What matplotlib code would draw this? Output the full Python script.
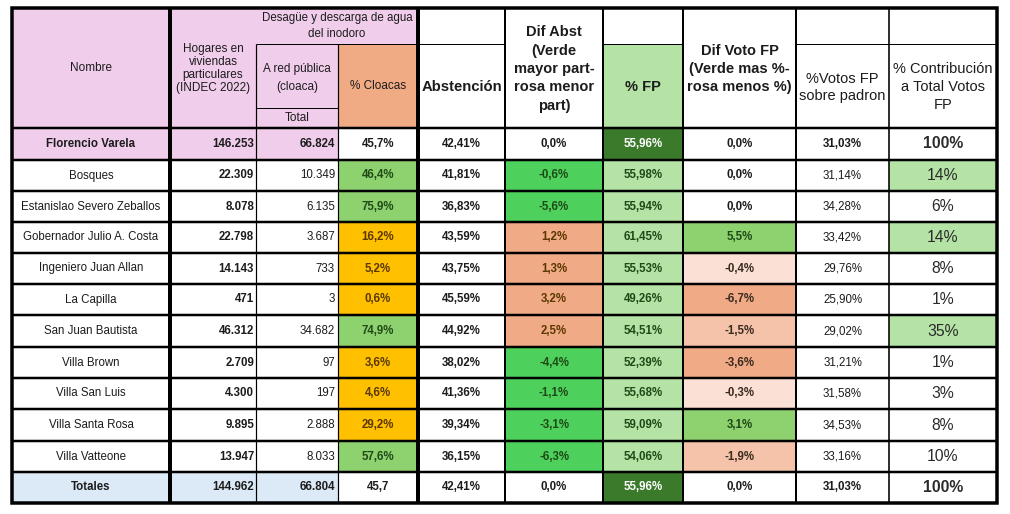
import matplotlib
matplotlib.use("Agg")
import matplotlib.pyplot as plt
from matplotlib.patches import Rectangle

plt.rcParams['font.family'] = ['Liberation Sans', 'DejaVu Sans']

# ---------------- data ----------------
names = ["Florencio Varela", "Bosques", "Estanislao Severo Zeballos",
         "Gobernador Julio A. Costa", "Ingeniero Juan Allan", "La Capilla",
         "San Juan Bautista", "Villa Brown", "Villa San Luis",
         "Villa Santa Rosa", "Villa Vatteone", "Totales"]
hogares = [146253, 22309, 8078, 22798, 14143, 471, 46312, 2709, 4300, 9895, 13947, 144962]
red_publica = [66824, 10349, 6135, 3687, 733, 3, 34682, 97, 197, 2888, 8033, 66804]
cloacas = [45.7, 46.4, 75.9, 16.2, 5.2, 0.6, 74.9, 3.6, 4.6, 29.2, 57.6, 45.7]
abstencion = [42.41, 41.81, 36.83, 43.59, 43.75, 45.59, 44.92, 38.02, 41.36, 39.34, 36.15, 42.41]
dif_abst = [0.0, -0.6, -5.6, 1.2, 1.3, 3.2, 2.5, -4.4, -1.1, -3.1, -6.3, 0.0]
pct_fp = [55.96, 55.98, 55.94, 61.45, 55.53, 49.26, 54.51, 52.39, 55.68, 59.09, 54.06, 55.96]
dif_voto = [0.0, 0.0, 0.0, 5.5, -0.4, -6.7, -1.5, -3.6, -0.3, 3.1, -1.9, 0.0]
votos_padron = [31.03, 31.14, 34.28, 33.42, 29.76, 25.90, 29.02, 31.21, 31.58, 34.53, 33.16, 31.03]
contribucion = [100, 14, 6, 14, 8, 1, 35, 1, 3, 8, 10, 100]

headers = {
    "nombre": "Nombre",
    "hogares": "Hogares en\nviviendas\nparticulares\n(INDEC 2022)",
    "desague": "Desagüe y descarga de agua\ndel inodoro",
    "red": "A red pública\n(cloaca)",
    "total": "Total",
    "cloacas": "% Cloacas",
    "abst": "Abstención",
    "difabst": "Dif Abst\n(Verde\nmayor part-\nrosa menor\npart)",
    "fp": "% FP",
    "difvoto": "Dif Voto FP\n(Verde mas %-\nrosa menos %)",
    "votos": "%Votos FP\nsobre padron",
    "contrib": "% Contribución\na Total Votos\nFP",
}

# ---------------- layout / style ----------------
W, H = 1010, 514
xe = [12, 170, 256, 338, 418, 505, 603, 683, 796, 889, 997]
y_top, y_mid, y_sub, y_hdr = 8, 44, 108, 128
ye = [128, 160, 191, 222, 253, 284, 315, 347, 378, 409, 441, 472, 503]

PINK = "#F1CDEC"
SALMON_H = "#F0AA84"
BLUE = "#DCE9F6"
GREEN_M = "#8ED26F"
ORANGE = "#FFC000"
GREEN_B = "#4DD15C"
SALMON = "#F1AA86"
LGREEN = "#B4E3A5"
DGREEN = "#3C7A2B"
PEACH_L = "#FBE1D5"
PEACH_M = "#F5C3A9"
TXT = "#1c1c1c"
TXT_G = "#1f4a17"
TXT_O = "#5a3800"

px = 0.72  # points per pixel at dpi=100

fig = plt.figure(figsize=(W / 100, H / 100), dpi=100)
ax = fig.add_axes([0, 0, 1, 1])
ax.set_xlim(0, W)
ax.set_ylim(H, 0)
ax.axis("off")


def cell(x0, x1, y0, y1, color):
    ax.add_patch(Rectangle((x0, y0), x1 - x0, y1 - y0, facecolor=color,
                           edgecolor="none", zorder=1))


def txt(x, y, s, size=8.3, weight="normal", ha="center", color=TXT, ls=1.0):
    ax.text(x, y, s, fontsize=size, fontweight=weight, ha=ha, va="center",
            color=color, linespacing=ls, zorder=3)


def fmt_int(v):
    return f"{v:,}".replace(",", ".")


def fmt_dec(v, d):
    return f"{v:.{d}f}".replace(".", ",")


# ---------------- header backgrounds ----------------
cell(xe[0], xe[2], y_top, y_hdr, PINK)
cell(xe[2], xe[4], y_top, y_mid, PINK)
cell(xe[2], xe[3], y_mid, y_hdr, PINK)
cell(xe[3], xe[4], y_mid, y_hdr, SALMON_H)
cell(xe[6], xe[7], y_mid, y_hdr, LGREEN)

cx = [(xe[i] + xe[i + 1]) / 2 for i in range(len(xe) - 1)]
txt(cx[0], 68, headers["nombre"], size=8.5)
txt(cx[1], 68.5, headers["hogares"], size=8.5, ls=1.13)
txt((xe[2] + xe[4]) / 2, 26, headers["desague"], size=8.3, ls=1.35)
txt(cx[2], 78, headers["red"], size=8.5, ls=1.6)
txt(cx[2], 118, headers["total"], size=8.5)
txt(cx[3], 86, headers["cloacas"], size=8.5)
txt(cx[4], 87, headers["abst"], size=10.7, weight="bold")
txt(cx[5], 69, headers["difabst"], size=10.5, weight="bold", ls=1.4)
txt(cx[6], 87, headers["fp"], size=10.5, weight="bold")
txt(cx[7], 69, headers["difvoto"], size=10.5, weight="bold", ls=1.4)
txt(cx[8], 87.5, headers["votos"], size=10.5, ls=1.33)
txt(cx[9], 87, headers["contrib"], size=10.5, ls=1.4)

# ---------------- body ----------------
n = len(names)
for i in range(n):
    y0, y1 = ye[i], ye[i + 1]
    yc = (y0 + y1) / 2
    special = i == 0 or i == n - 1
    base = PINK if i == 0 else (BLUE if i == n - 1 else "white")

    if special:
        cell(xe[0], xe[3], y0, y1, base)

    # % Cloacas
    tc = TXT
    if not special:
        if cloacas[i] >= 45:
            cell(xe[3], xe[4], y0, y1, GREEN_M); tc = TXT_G
        else:
            cell(xe[3], xe[4], y0, y1, ORANGE); tc = TXT_O
    cl = fmt_dec(cloacas[i], 1) + ("" if i == n - 1 else "%")
    txt(cx[3], yc, cl, weight="bold", color=tc)

    # Dif Abst
    tc = TXT
    if dif_abst[i] < 0:
        cell(xe[5], xe[6], y0, y1, GREEN_B); tc = TXT_G
    elif dif_abst[i] > 0:
        cell(xe[5], xe[6], y0, y1, SALMON); tc = TXT_O
    txt(cx[5], yc, fmt_dec(dif_abst[i], 1) + "%", weight="bold", color=tc)

    # % FP
    if special:
        cell(xe[6], xe[7], y0, y1, DGREEN)
        txt(cx[6], yc, fmt_dec(pct_fp[i], 2) + "%", weight="bold", color="white")
    else:
        cell(xe[6], xe[7], y0, y1, LGREEN)
        txt(cx[6], yc, fmt_dec(pct_fp[i], 2) + "%", weight="bold", color=TXT_G)

    # Dif Voto FP
    dv = dif_voto[i]
    tc = TXT
    if dv > 0:
        cell(xe[7], xe[8], y0, y1, GREEN_M); tc = TXT_G
    elif dv < 0:
        if dv > -1:
            col = PEACH_L
        elif dv > -3:
            col = PEACH_M
        else:
            col = SALMON
        cell(xe[7], xe[8], y0, y1, col); tc = "#3a2a20"
    txt(cx[7], yc, fmt_dec(dv, 1) + "%", weight="bold", color=tc)

    # Contribución
    if not special and contribucion[i] >= 12:
        cell(xe[9], xe[10], y0, y1, LGREEN)

    # texts
    txt(cx[0], yc, names[i], weight="bold" if special else "normal")
    txt(xe[2] - 2, yc, fmt_int(hogares[i]), weight="bold", ha="right")
    txt(xe[3] - 3, yc, fmt_int(red_publica[i]),
        weight="bold" if special else "normal", ha="right")
    txt(cx[4], yc, fmt_dec(abstencion[i], 2) + "%", weight="bold")
    txt(cx[8], yc, fmt_dec(votos_padron[i], 2) + "%",
        weight="bold" if special else "normal")
    txt(cx[9], yc, f"{contribucion[i]}%", size=11.3,
        weight="bold" if special else "normal", color="#2a2a2a")

# ---------------- grid lines ----------------
K = "black"


def hline(y, x0, x1, w):
    ax.plot([x0, x1], [y, y], color=K, lw=w * px, zorder=4, solid_capstyle="butt")


def vline(x, y0, y1, w):
    ax.plot([x, x], [y0, y1], color=K, lw=w * px, zorder=4, solid_capstyle="butt")


hline(y_mid, xe[2], xe[5], 1)
hline(y_mid, xe[6], xe[7], 1)
hline(y_mid, xe[8], xe[10], 1)
hline(y_sub, xe[2], xe[3], 1)

for y in ye[:-1]:
    hline(y, xe[0], xe[10], 2.5)

vline(xe[2], y_mid, ye[-1], 1.2)
vline(xe[3], y_mid, ye[-1], 1.2)
for i in [1, 4]:
    vline(xe[i], y_top, ye[-1], 4)
for i in [5, 6, 7, 8]:
    vline(xe[i], y_top, ye[-1], 2)
vline(xe[9], y_top, ye[-1], 1.6)

ax.add_patch(Rectangle((xe[0], y_top), xe[-1] - xe[0], ye[-1] - y_top,
                       facecolor="none", edgecolor=K, lw=3.5 * px, zorder=5))

fig.savefig("out.png", dpi=100)
